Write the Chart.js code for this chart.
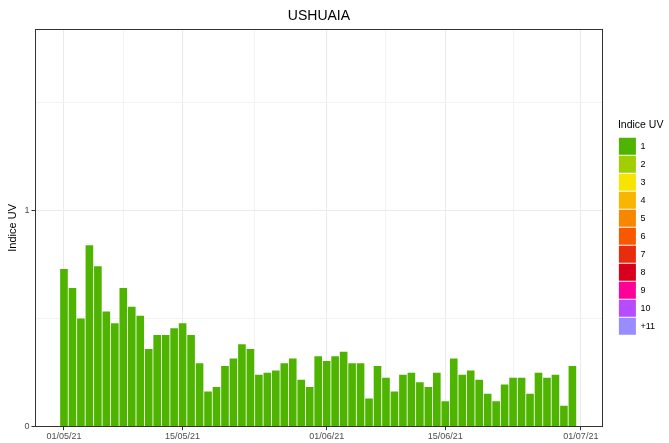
<!DOCTYPE html>
<html>
<head>
<meta charset="utf-8">
<script src="https://cdn.jsdelivr.net/npm/chart.js@4/dist/chart.umd.min.js"></script>
<style>
  html, body { margin: 0; padding: 0; background: #fff; }
  #wrap { width: 669px; height: 443px; }
</style>
</head>
<body>
<div id="wrap"><canvas id="uv-chart"></canvas></div>
<script>
// Daily UV index, Ushuaia, 01/05/21 .. 30/06/21 (x = days since 01/05/21)
const uvValues = [
    0.730, 0.642, 0.501, 0.839, 0.742, 0.533, 0.479, 0.642, 0.555, 0.513,
    0.359, 0.424, 0.424, 0.456, 0.479, 0.424, 0.293, 0.163, 0.184, 0.281,
    0.315, 0.381, 0.359, 0.240, 0.250, 0.260, 0.293, 0.315, 0.217, 0.184,
    0.326,
    0.304, 0.326, 0.347, 0.293, 0.293, 0.131, 0.281, 0.227, 0.163, 0.240,
    0.250, 0.206, 0.184, 0.250, 0.118, 0.315, 0.240, 0.260, 0.217, 0.152,
    0.118, 0.195, 0.227, 0.227, 0.152, 0.250, 0.227, 0.240, 0.097, 0.281
];

// x axis ticks (day offsets) and their labels, minor grid positions
const tickDays = [0, 14, 31, 45, 61];
const tickLabels = ["01/05/21", "15/05/21", "01/06/21", "15/06/21", "01/07/21"];
const minorDays = [7, 22.5, 38, 53];

// y axis ticks
const yMajor = [0, 1];
const yMinor = [0.5, 1.5];

// legend
const uvLevels = ["1", "2", "3", "4", "5", "6", "7", "8", "9", "10", "+11"];
const uvColors = ["#4eb400", "#a0ce00", "#f7e400", "#f8b600", "#f88700", "#f85900",
                  "#e82c0e", "#d8001d", "#ff0099", "#b54cff", "#998cff"];

const fontFamily = "'Liberation Sans', Arial, sans-serif";

const panelBorder = {
    id: "panelBorder",
    afterDatasetsDraw(chart) {
        const { ctx, chartArea: a } = chart;
        ctx.save();
        ctx.strokeStyle = "#333333";
        ctx.lineWidth = 1;
        ctx.strokeRect(Math.round(a.left) + 0.5, Math.round(a.top) + 0.5,
                       Math.round(a.right - a.left) - 1, Math.round(a.bottom - a.top) - 1);
        ctx.restore();
    }
};

const ctx = document.getElementById("uv-chart").getContext("2d");
new Chart(ctx, {
    type: "bar",
    data: {
        datasets: [{
            label: "1",
            data: uvValues.map((v, i) => ({ x: i, y: v })),
            backgroundColor: uvColors[0],
            borderWidth: 0,
            categoryPercentage: 1,
            barPercentage: 0.9
        }]
    },
    options: {
        responsive: true,
        maintainAspectRatio: false,
        animation: false,
        layout: { padding: { top: 0, right: 4, bottom: 0, left: 0 } },
        scales: {
            x: {
                type: "linear",
                min: -3.42,
                max: 63.6,
                offset: false,
                afterBuildTicks: scale => {
                    scale.ticks = tickDays.concat(minorDays).map(v => ({ value: v }));
                },
                ticks: {
                    autoSkip: false,
                    maxRotation: 0,
                    padding: 1,
                    color: "#4d4d4d",
                    font: { family: fontFamily, size: 9 },
                    callback: value => {
                        const k = tickDays.indexOf(value);
                        return k >= 0 ? tickLabels[k] : "";
                    }
                },
                grid: {
                    offset: false,
                    tickLength: 3.5,
                    color: c => tickDays.includes(c.tick.value) ? "#ebebeb" : "#f3f3f3",
                    tickColor: c => tickDays.includes(c.tick.value) ? "#333333" : "rgba(0,0,0,0)"
                },
                border: { display: false }
            },
            y: {
                min: 0,
                max: 1.84,
                afterBuildTicks: scale => {
                    scale.ticks = yMajor.concat(yMinor).map(v => ({ value: v }));
                },
                afterFit: scale => { scale.width = 35; },
                ticks: {
                    padding: 2,
                    color: "#4d4d4d",
                    font: { family: fontFamily, size: 9 },
                    callback: value => yMajor.includes(value) ? String(value) : ""
                },
                grid: {
                    tickLength: 3.5,
                    color: c => yMajor.includes(c.tick.value) ? "#ebebeb" : "#f3f3f3",
                    tickColor: c => yMajor.includes(c.tick.value) ? "#333333" : "rgba(0,0,0,0)"
                },
                border: { display: false },
                title: {
                    display: true,
                    text: "Indice UV",
                    color: "#000",
                    padding: { top: 6, bottom: 0 },
                    font: { family: fontFamily, size: 11 }
                }
            },
            gap: {
                type: "linear",
                position: "right",
                display: true,
                afterFit: scale => { scale.width = 15; },
                ticks: { display: false },
                grid: { display: false },
                border: { display: false }
            }
        },
        plugins: {
            title: {
                display: true,
                text: "USHUAIA",
                fullSize: false,
                color: "#000",
                padding: { top: 8, bottom: 4.2 },
                font: { family: fontFamily, size: 14, weight: "normal" }
            },
            legend: {
                display: true,
                position: "right",
                fullSize: false,
                onClick: null,
                title: {
                    display: true,
                    text: "Indice UV",
                    position: "start",
                    color: "#000",
                    padding: { top: 0, bottom: 4 },
                    font: { family: fontFamily, size: 10.5 }
                },
                labels: {
                    boxWidth: 17,
                    boxHeight: 17,
                    padding: 1,
                    color: "#000",
                    font: { family: fontFamily, size: 9 },
                    generateLabels: () => uvLevels.map((t, i) => ({
                        text: t,
                        fillStyle: uvColors[i],
                        strokeStyle: uvColors[i],
                        lineWidth: 0,
                        hidden: false,
                        index: i
                    }))
                }
            },
            tooltip: { enabled: false }
        }
    },
    plugins: [panelBorder]
});
</script>
</body>
</html>
